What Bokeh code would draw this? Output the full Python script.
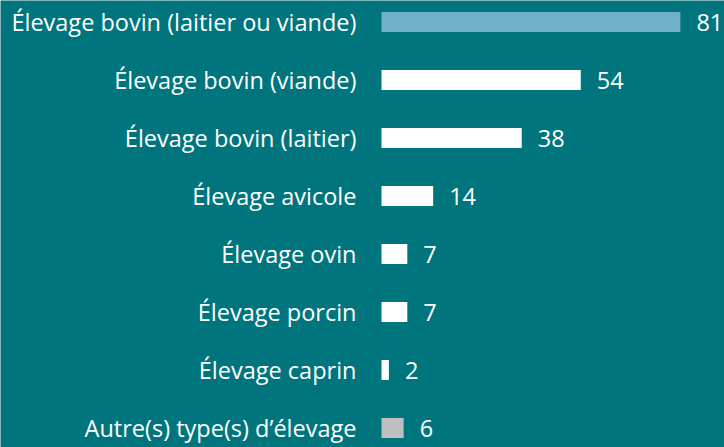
from bokeh.plotting import figure
from bokeh.models import ColumnDataSource, Range1d
from bokeh.core.properties import value
from bokeh.embed import file_html
from bokeh.resources import INLINE

categories = ["Élevage bovin (laitier ou viande)", "Élevage bovin (viande)", "Élevage bovin (laitier)",
              "Élevage avicole", "Élevage ovin", "Élevage porcin", "Élevage caprin",
              "Autre(s) type(s) d’élevage"]
values = [81, 54, 38, 14, 7, 7, 2, 6]
colors = ["#70B0C8", "#FFFFFF", "#FFFFFF", "#FFFFFF", "#FFFFFF", "#FFFFFF", "#FFFFFF", "#BFBFBF"]

BG = "#00757D"
idx = list(range(len(categories)))
src = ColumnDataSource(dict(y=idx, v=values, c=colors, cat=categories,
                            zero=[0] * len(values), lab=[str(x) for x in values]))

pxu = 3.69
x0 = 381
step = 58.0
top = 21.5
p = figure(width=724, height=447, output_backend="svg", toolbar_location=None,
           x_range=Range1d(-x0 / pxu, (724 - x0) / pxu),
           y_range=Range1d((447 - top) / step, -top / step),
           background_fill_color=BG, border_fill_color=BG, min_border=0)
p.axis.visible = False
p.grid.visible = False
p.outline_line_color = None

p.hbar(y="y", left="zero", right="v", height=20 / step, fill_color="c", line_color=None, source=src)
p.text(x="zero", y="y", text="cat", source=src, x_offset=-25, text_align="right",
       text_baseline="middle", text_color="white", text_font=value("Open Sans"), text_font_size="23.5px")
p.text(x="v", y="y", text="lab", source=src, x_offset=16, text_align="left",
       text_baseline="middle", text_color="white", text_font=value("Open Sans"), text_font_size="23.5px")

open("out.html", "w").write(file_html(p, INLINE))
